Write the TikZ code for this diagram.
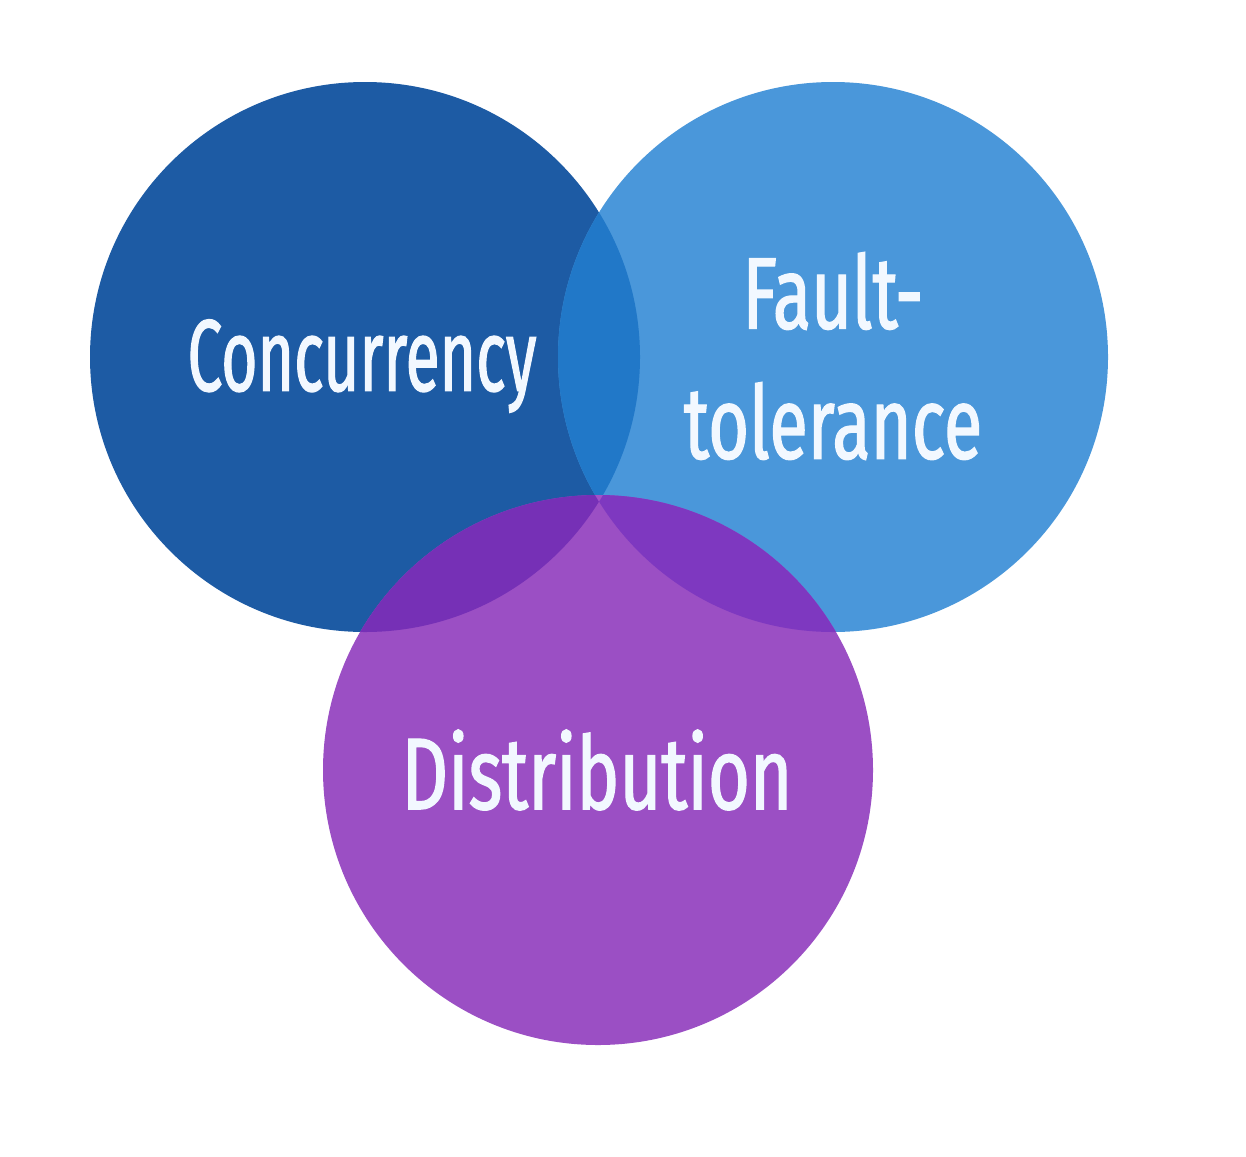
\documentclass[tikz,border=0pt]{standalone}
\usepackage{fontspec}
\setmainfont{Fira Sans}[FakeStretch=0.65, FakeBold=1.2]
\usetikzlibrary{positioning}
\usepackage{xcolor}

\definecolor{concblue}{HTML}{1D5BA4}
\definecolor{faultblue}{HTML}{4A97DA}
\definecolor{lensblue}{HTML}{2178C8}
\definecolor{distpurple}{HTML}{9B4FC4}
\definecolor{concpurple}{HTML}{7630B6}
\definecolor{faultpurple}{HTML}{7E38C0}
\definecolor{midpurple}{HTML}{A052C8}
\definecolor{labeltext}{HTML}{F2F8FF}

\begin{document}
\begin{tikzpicture}[
		% Style definitions
		setcircle/.style={circle, minimum size=11cm, inner sep=0pt, draw=none},
		setlabel/.style={font=\fontsize{58}{74}\selectfont, text=labeltext, align=center, transform shape},
		]
		\useasboundingbox (0,0) rectangle (24.92,-23.12);

		% === The three sets ===
		\node[setcircle, fill=concblue] (conc) at (7.30,-7.14) {};
		\node[setcircle, fill=faultblue] (fault) at (16.66,-7.14) {};

		% Overlap of the two blue sets
		\begin{scope}
			\clip (conc.center) circle (5.5);
			\fill[lensblue] (fault.center) circle (5.5);
		\end{scope}

		\node[setcircle, fill=distpurple] (dist) at (11.96,-15.40) {};

		% === Overlaps with the purple set ===
		\begin{scope}
			\clip (dist.center) circle (5.5);
			\fill[concpurple] (conc.center) circle (5.5);
			\fill[faultpurple] (fault.center) circle (5.5);
			\clip (conc.center) circle (5.5);
			\fill[midpurple] (fault.center) circle (5.5);
		\end{scope}

		% === Labels ===
		\node[setlabel, xscale=0.94] (conclabel) at (7.24,-7.32) {Concurrency};
		\node[setlabel, xscale=1.06] (faultlabel) at (16.66,-7.12) {Fault-\\tolerance};
		\node[setlabel, xscale=1.09] (distlabel) at (11.94,-15.40) {Distribution};

	\end{tikzpicture}
\end{document}
